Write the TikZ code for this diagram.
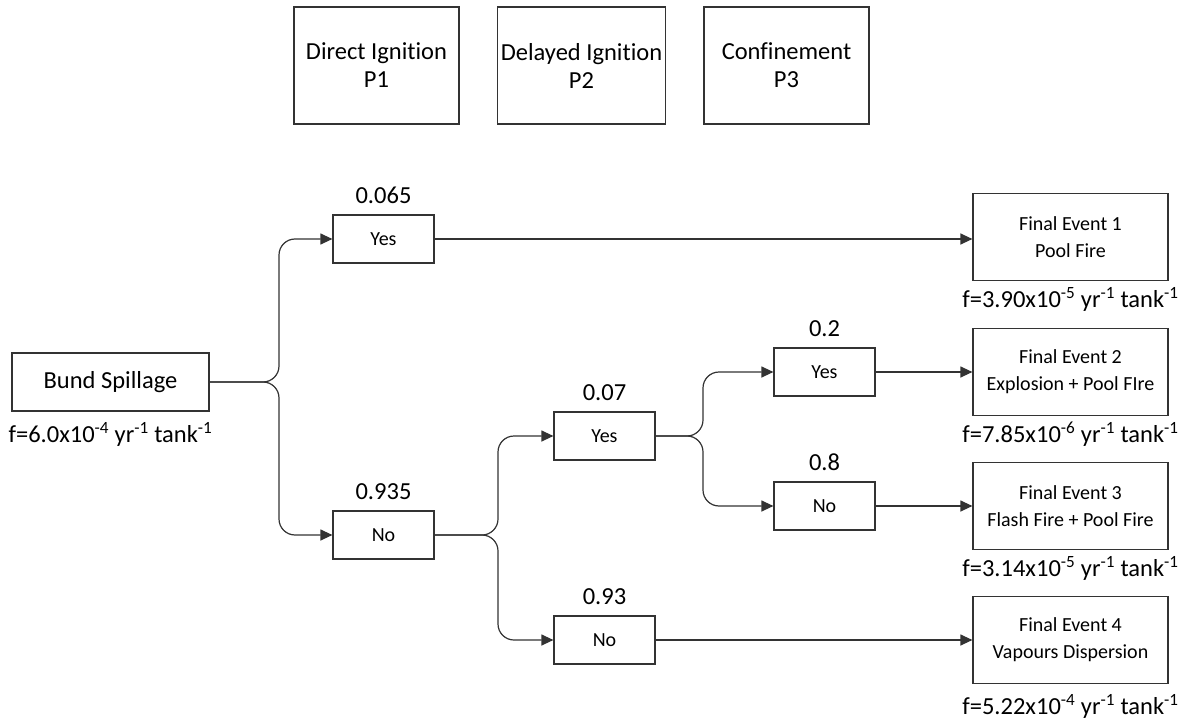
\documentclass[tikz,border=0pt]{standalone}
\usepackage{fontspec}
\setmainfont{Carlito}[Ligatures=NoCommon]
\usetikzlibrary{positioning,arrows.meta}

\begin{document}
\begin{tikzpicture}[x=1pt, y=-1pt,
    every node/.style = {align=center},
    box/.style = {draw=black!80, line width=1.2pt, shape=rectangle},
    stagebox/.style = {box, minimum width=165pt, minimum height=117pt,
      font=\fontsize{24.5}{28}\selectfont},
    startbox/.style = {box, minimum width=197pt, minimum height=58pt,
      font=\fontsize{24.5}{28}\selectfont},
    answer/.style = {box, minimum width=101pt, minimum height=48pt,
      font=\fontsize{20}{27}\selectfont},
    outcome/.style = {box, minimum width=195pt, minimum height=87pt,
      font=\fontsize{20}{27}\selectfont},
    prob/.style = {inner sep=0pt, font=\fontsize{24.5}{28}\selectfont},
    freq/.style = {inner sep=0pt, font=\fontsize{24.5}{28}\selectfont},
    branch/.style = {draw=black!80, line width=1.2pt, rounded corners=16pt,
      -{Triangle[length=12pt, width=11pt]}}]
    \useasboundingbox (0,0) rectangle (1180,722);
    \node[stagebox] (direct) at (376.5,65.5) {Direct Ignition\\P1};
    \node[stagebox] (delayed) at (581.5,65.5) {Delayed Ignition\\P2};
    \node[stagebox] (confine) at (786.5,65.5) {Confinement\\P3};

    \node[startbox] (bund) at (110.5,382) {Bund Spillage};
    \node[freq, below=11pt of bund] (fbund) {f=6.0x10\textsuperscript{-4} yr\textsuperscript{-1} tank\textsuperscript{-1}};

    \node[answer] (yesA) at (383.5,239) {Yes};
    \node[answer] (noA) at (383.5,535) {No};
    \node[answer] (yesB) at (604.5,436) {Yes};
    \node[answer] (noB) at (604.5,640) {No};
    \node[answer] (yesC) at (824.5,372) {Yes};
    \node[answer] (noC) at (824.5,506) {No};
    \node[prob, above=11pt of yesA] {0.065};
    \node[prob, above=11pt of noA] {0.935};
    \node[prob, above=11pt of yesB] {0.07};
    \node[prob, above=11pt of noB] {0.93};
    \node[prob, above=11pt of yesC] {0.2};
    \node[prob, above=11pt of noC] {0.8};

    \node[outcome] (evA) at (1070.5,237) {Final Event 1\\Pool Fire};
    \node[outcome] (evB) at (1070.5,372) {Final Event 2\\Explosion + Pool FIre};
    \node[outcome] (evC) at (1070.5,506) {Final Event 3\\Flash Fire + Pool Fire};
    \node[outcome] (evD) at (1070.5,640) {Final Event 4\\Vapours Dispersion};
    \node[freq, below=6pt of evA] {f=3.90x10\textsuperscript{-5} yr\textsuperscript{-1} tank\textsuperscript{-1}};
    \node[freq, below=6pt of evB] {f=7.85x10\textsuperscript{-6} yr\textsuperscript{-1} tank\textsuperscript{-1}};
    \node[freq, below=6pt of evC] {f=3.14x10\textsuperscript{-5} yr\textsuperscript{-1} tank\textsuperscript{-1}};
    \node[freq, below=10pt of evD] {f=5.22x10\textsuperscript{-4} yr\textsuperscript{-1} tank\textsuperscript{-1}};

    \coordinate (splitA) at (279,382);
    \coordinate (splitB) at (498,535);
    \coordinate (splitC) at (703,436);
    \draw[branch] (bund.east) -- (splitA) |- (yesA.west);
    \draw[branch] (bund.east) -- (splitA) |- (noA.west);
    \draw[branch] (noA.east) -- (splitB) |- (yesB.west);
    \draw[branch] (noA.east) -- (splitB) |- (noB.west);
    \draw[branch] (yesB.east) -- (splitC) |- (yesC.west);
    \draw[branch] (yesB.east) -- (splitC) |- (noC.west);
    \draw[branch] (yesA.east) -- (yesA.east -| evA.west);
    \draw[branch] (yesC.east) -- (evB.west);
    \draw[branch] (noC.east) -- (evC.west);
    \draw[branch] (noB.east) -- (evD.west);
\end{tikzpicture}
\end{document}
